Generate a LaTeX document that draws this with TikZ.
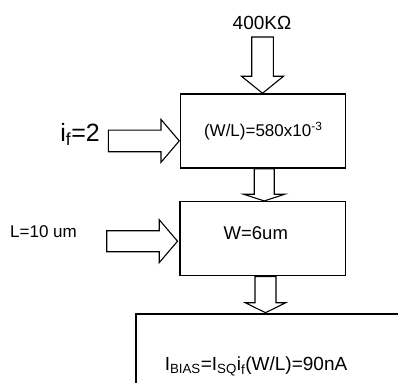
\documentclass[tikz,border=0pt]{standalone}
\usepackage{fontspec}
\setmainfont{Liberation Sans}
\usetikzlibrary{calc}
\newcommand{\fsize}[1]{\fontsize{#1}{#1}\selectfont}
% vastag blokknyil lefele / jobbra: #1 kezdet, #2 hegy, #3 fel szar, #4 fel fej, #5 fejhossz
\newcommand{\downblock}[5]{%
  \draw[nyil] let \p1=(#1), \p2=(#2) in
    (\x1-#3,\y1) -- (\x1-#3,\y2+#5) -- (\x1-#4,\y2+#5) -- (\x1,\y2)
    -- (\x1+#4,\y2+#5) -- (\x1+#3,\y2+#5) -- (\x1+#3,\y1) -- cycle;}
\newcommand{\rightblock}[5]{%
  \draw[nyil] let \p1=(#1), \p2=(#2) in
    (\x1,\y1-#3) -- (\x2-#5,\y1-#3) -- (\x2-#5,\y1-#4) -- (\x2,\y1)
    -- (\x2-#5,\y1+#4) -- (\x2-#5,\y1+#3) -- (\x1,\y1+#3) -- cycle;}
\tikzset{
  blokk/.style={draw,line width=1.5pt,inner sep=0pt},
  nyil/.style={draw,line width=1.1pt,line join=miter,fill=white},
  felirat/.style={inner sep=0pt},
}

\begin{document}
\begin{tikzpicture}[x=1pt,y=-1pt]
  \useasboundingbox (0,0) rectangle (398,382);
  \clip (0,0) rectangle (398,382);
  % blokkok
  \node[blokk,minimum width=165pt,minimum height=74pt,font=\fsize{17}] (wl) at (263.2,131)
    {(W/L)=580x10\textsuperscript{-3}};
  \node[blokk,minimum width=165.7pt,minimum height=74pt] (w) at (262.8,238.7) {};
  \node[felirat,font=\fsize{18.5}] (wtxt) at ($(w.center)+(-7,-6)$) {W=6um};
  \node[blokk,anchor=north west,minimum width=300pt,minimum height=120pt] (ib) at (135,313.3) {};
  \node[felirat,font=\fsize{19}] (ibtxt) at (256,366.7)
    {I\textsubscript{BIAS}=I\textsubscript{SQ}i\textsubscript{f}(W/L)=90nA};
  % bemenetek
  \node[felirat,font=\fsize{19}] (ohm) at (262,23) {400KΩ};
  \coordinate (ohmtop) at (262.5,37);
  \node[felirat,font=\fsize{25},anchor=base east] (if) at (100,141.7) {i\textsubscript{f}=2};
  \coordinate (ifstart) at (108.3,140.9);
  \node[felirat,font=\fsize{17}] (len) at (43.5,231.7) {L=10 um};
  \coordinate (lstart) at (106.7,241.2);
  % nyilak
  \downblock{ohmtop}{wl.north}{10.8pt}{21pt}{17pt}
  \downblock{$(wl.south)+(1,0)$}{w.north}{10pt}{20.5pt}{6.7pt}
  \downblock{$(w.south)+(2.7,0)$}{$(ib.north west)+(0,-0.6)$}{10.5pt}{20.3pt}{10pt}
  \rightblock{ifstart}{$(wl.west)+(-0.7,0)$}{10.8pt}{21.5pt}{18.3pt}
  \rightblock{lstart}{$(w.west)+(-1.7,0)$}{10.5pt}{21.5pt}{18.3pt}
\end{tikzpicture}
\end{document}
